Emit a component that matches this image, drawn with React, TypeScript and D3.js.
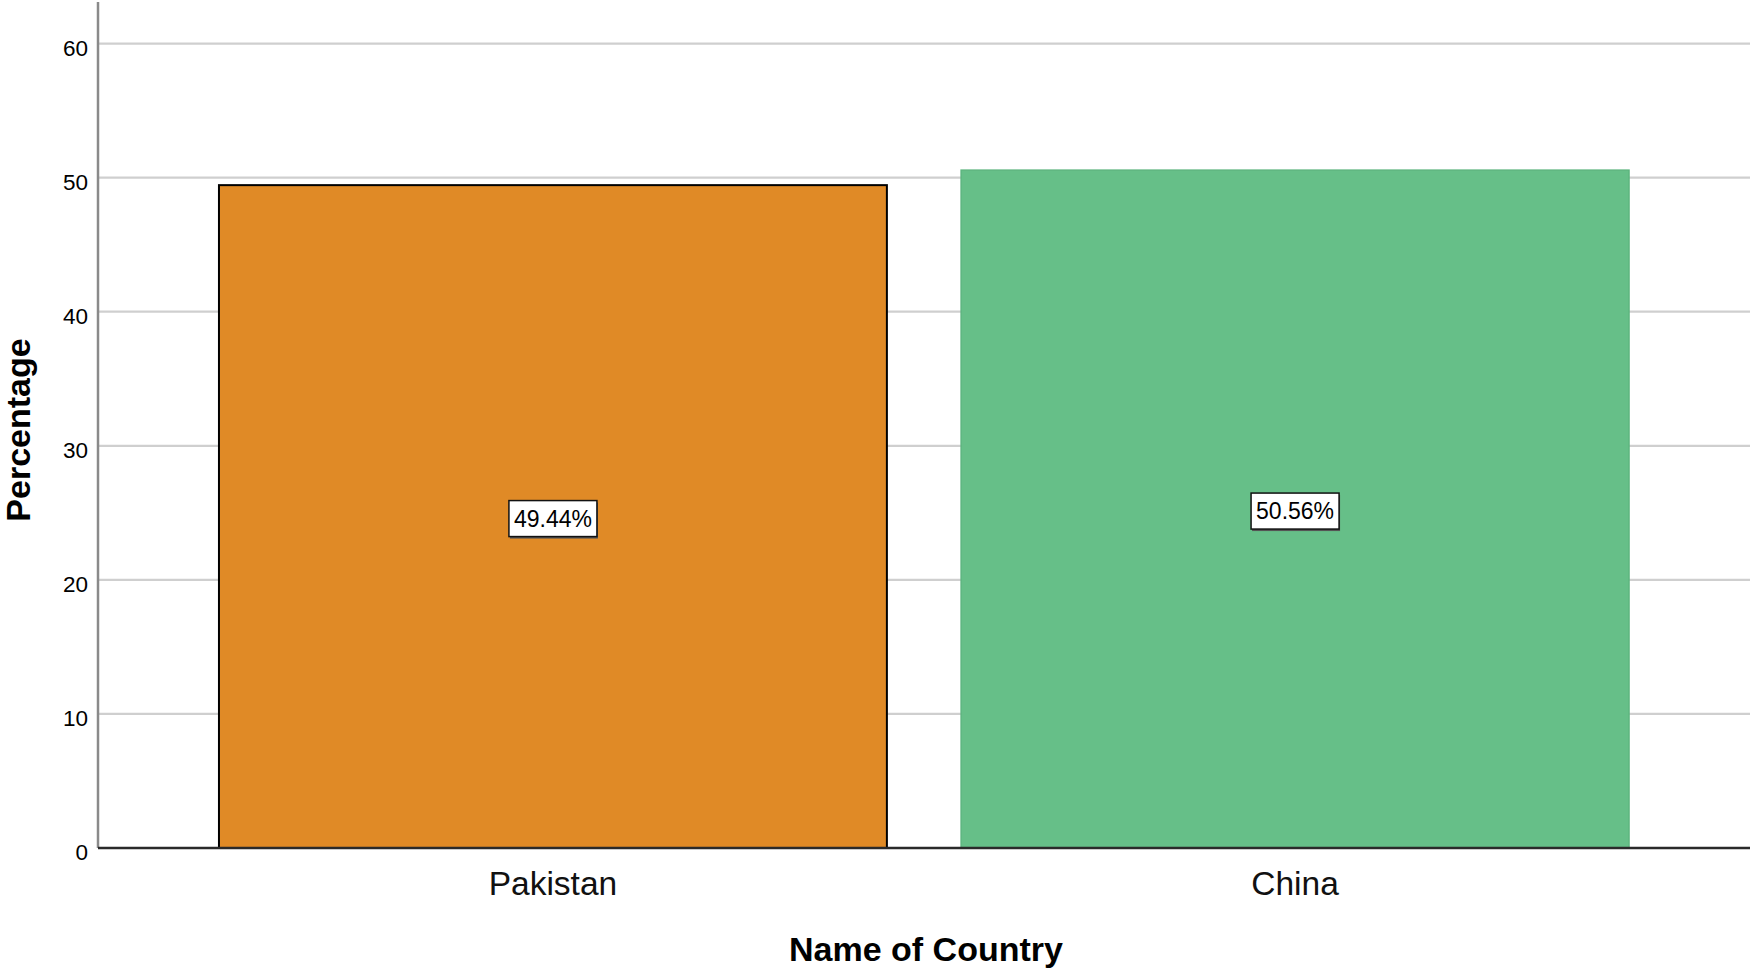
import React from 'react';
import * as d3 from 'd3';

const countries = ['Pakistan', 'China'];
const percentages = [49.44, 50.56];
const barColors = ['#E08A26', '#66BF88'];
const barStrokes = ['#000000', '#5DB57F'];
const yTicks = [0, 10, 20, 30, 40, 50, 60];

const W = 1755;
const H = 972;
const margin = { top: 2, right: 5, bottom: 124, left: 98 };
const FONT = 'Arial, "Liberation Sans", Helvetica, sans-serif';

export default function App() {
  const plotW = W - margin.left - margin.right;
  const plotH = H - margin.top - margin.bottom;

  const x = d3.scaleBand<string>()
    .domain(countries)
    .range([0, plotW])
    .paddingInner(0.1)
    .paddingOuter(0.163);

  const y = d3.scaleLinear().domain([0, 63.1]).range([plotH, 0]);

  return (
    <svg width={W} height={H} style={{ position: 'absolute', left: 0, top: 0, background: '#fff' }}>
      <g transform={`translate(${margin.left},${margin.top})`}>
        {/* gridlines */}
        {yTicks.filter(t => t > 0).map(t => (
          <line key={t} x1={0} x2={plotW} y1={y(t)} y2={y(t)} stroke="#cfcfcf" strokeWidth={2.2} />
        ))}

        {/* bars */}
        {countries.map((c, i) => {
          const x0 = x(c)!;
          const y0 = y(percentages[i]);
          return (
            <rect key={c} x={x0} y={y0} width={x.bandwidth()} height={plotH - y0}
              fill={barColors[i]} stroke={barStrokes[i]} strokeWidth={i === 0 ? 2 : 1.5} />
          );
        })}

        {/* value labels */}
        {countries.map((c, i) => {
          const cx = x(c)! + x.bandwidth() / 2;
          const cy = (y(percentages[i]) + plotH) / 2 + 2;
          const bw = 88, bh = 36;
          return (
            <g key={c}>
              <rect x={cx - bw / 2 + 1} y={cy - bh / 2 + 2} width={bw} height={bh} fill="#555" />
              <rect x={cx - bw / 2} y={cy - bh / 2} width={bw} height={bh} fill="#fff" stroke="#111" strokeWidth={1.5} />
              <text x={cx} y={cy} dy="0.36em" textAnchor="middle" fontFamily={FONT} fontSize={23} fill="#000">
                {percentages[i].toFixed(2)}%
              </text>
            </g>
          );
        })}

        {/* y axis */}
        <line x1={0} x2={0} y1={0} y2={plotH} stroke="#8a8a8a" strokeWidth={2.5} />
        {yTicks.map(t => (
          <text key={t} x={-10} y={y(t)} dy="0.55em" textAnchor="end" fontFamily={FONT} fontSize={22.5} fill="#000">
            {t}
          </text>
        ))}

        {/* x axis baseline */}
        <line x1={0} x2={plotW} y1={plotH} y2={plotH} stroke="#2a2a2a" strokeWidth={2.5} />
        {countries.map(c => (
          <text key={c} x={x(c)! + x.bandwidth() / 2} y={plotH + 47} textAnchor="middle"
            fontFamily={FONT} fontSize={33.5} fill="#111">
            {c}
          </text>
        ))}

        {/* axis titles */}
        <text x={plotW / 2 + 2} y={plotH + 113} textAnchor="middle" fontFamily={FONT} fontSize={34}
          fontWeight="bold" fill="#000">
          Name of Country
        </text>
        <text transform={`translate(${-margin.left + 30},${plotH / 2 + 5}) rotate(-90)`} textAnchor="middle"
          fontFamily={FONT} fontSize={34} fontWeight="bold" fill="#000">
          Percentage
        </text>
      </g>
    </svg>
  );
}
